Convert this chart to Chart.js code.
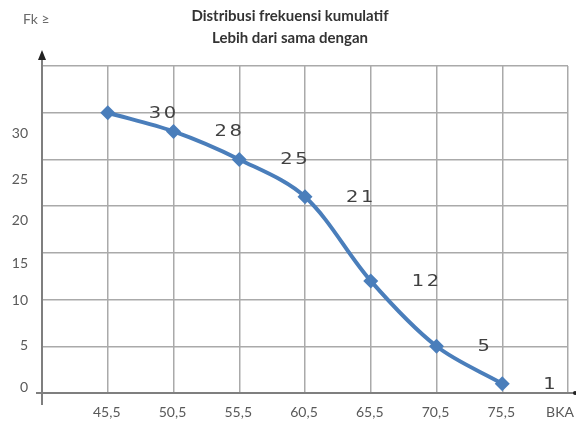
<!DOCTYPE html>
<html>
<head>
<meta charset="utf-8">
<script src="https://cdn.jsdelivr.net/npm/chart.js@4"></script>
<style>
  html, body { margin: 0; padding: 0; background: #fff; }
  #wrap { width: 576px; height: 422px; position: relative; }
</style>
</head>
<body>
<div id="wrap"><canvas id="chart"></canvas></div>
<script>
// class boundaries (x) and cumulative frequency "more than or equal" (y)
const boundaries = [45.5, 50.5, 55.5, 60.5, 65.5, 70.5, 75.5];
const cumFreq = [30, 28, 25, 21, 12, 5, 1];
const xTickLabels = ['45,5', '50,5', '55,5', '60,5', '65,5', '70,5', '75,5'];
const xGridValues = [40.5, 45.5, 50.5, 55.5, 60.5, 65.5, 70.5, 75.5, 80.5];
const yTickLabels = ['0', '5', '10', '15', '20', '25', '30'];
// the y labels were typed by hand and sit a little off their grid lines
const yLabelAt = [0.6, 5.1, 9.9, 13.9, 18.5, 22.8, 27.8];
const titleLines = ['Distribusi frekuensi kumulatif', 'Lebih dari sama dengan'];

const blue = '#4a7ebb';
const textGray = '#595959';

// all the loose text, arrows and value labels
const decorations = {
  id: 'decorations',
  afterDraw(chart) {
    const ctx = chart.ctx;
    const area = chart.chartArea;
    const xs = chart.scales.x;
    const ys = chart.scales.y;
    ctx.save();

    // axis lines, running slightly past the plot box
    ctx.strokeStyle = '#7f7f7f';
    ctx.lineWidth = 2;
    ctx.beginPath();
    ctx.moveTo(area.left, area.top - 8);
    ctx.lineTo(area.left, area.bottom + 12);
    ctx.moveTo(area.left - 6, area.bottom);
    ctx.lineTo(area.right + 6, area.bottom);
    ctx.stroke();

    // arrow heads
    ctx.fillStyle = '#222';
    ctx.beginPath();
    ctx.moveTo(area.left, area.top - 16);
    ctx.lineTo(area.left - 4, area.top - 6);
    ctx.lineTo(area.left + 4, area.top - 6);
    ctx.closePath();
    ctx.fill();
    ctx.beginPath();
    ctx.arc(area.right + 7, area.bottom, 2, 0, Math.PI * 2);
    ctx.fill();

    // title
    ctx.fillStyle = '#333';
    ctx.font = 'bold 15px Lato';
    ctx.textAlign = 'center';
    ctx.textBaseline = 'middle';
    titleLines.forEach((t, i) => ctx.fillText(t, 290, 16 + i * 22));

    ctx.font = '14px Lato';
    ctx.fillStyle = '#6a6a6a';
    ctx.textAlign = 'left';
    ctx.fillText('Fk \u2265', 23, 19);

    // y labels
    ctx.font = '14px Lato';
    ctx.fillStyle = textGray;
    ctx.textAlign = 'right';
    yTickLabels.forEach((t, i) => ctx.fillText(t, area.left - 14, ys.getPixelForValue(yLabelAt[i])));

    // x labels
    ctx.textAlign = 'center';
    xTickLabels.forEach((t, i) => ctx.fillText(t, xs.getPixelForValue(boundaries[i]) - 1, area.bottom + 19));
    ctx.fillText('BKA', xs.getPixelForValue(80.5) - 8, area.bottom + 19);

    // value labels to the right of each point, in a wide face
    ctx.font = '15px "DejaVu Sans"';
    ctx.letterSpacing = '2px';
    ctx.fillStyle = '#404040';
    ctx.textAlign = 'left';
    chart.getDatasetMeta(0).data.forEach((p, i) => {
      ctx.save();
      ctx.translate(p.x + 41, p.y + 1);
      ctx.scale(1.3, 1);
      ctx.fillText(String(cumFreq[i]), 0, 0);
      ctx.restore();
    });
    ctx.restore();
  }
};

new Chart(document.getElementById('chart'), {
  type: 'line',
  data: {
    datasets: [{
      data: boundaries.map((b, i) => ({ x: b, y: cumFreq[i] })),
      borderColor: blue,
      backgroundColor: blue,
      borderWidth: 4,
      tension: 0.33,
      pointStyle: 'rectRot',
      pointRadius: 7.5,
      pointBorderWidth: 0,
      fill: false
    }]
  },
  options: {
    responsive: true,
    maintainAspectRatio: false,
    animation: false,
    layout: { padding: { left: 42, right: 8, top: 66, bottom: 29 } },
    plugins: { legend: { display: false }, tooltip: { enabled: false } },
    scales: {
      x: {
        type: 'linear',
        min: 40.5,
        max: 80.5,
        afterBuildTicks: s => { s.ticks = xGridValues.map(v => ({ value: v })); },
        ticks: { display: false },
        grid: { color: '#aaaaaa', lineWidth: 1.5, drawTicks: false },
        border: { display: false }
      },
      y: {
        min: 0,
        max: 35,
        ticks: { display: false, stepSize: 5 },
        grid: { color: '#aaaaaa', lineWidth: 1.5, drawTicks: false },
        border: { display: false }
      }
    }
  },
  plugins: [decorations]
});
</script>
</body>
</html>
